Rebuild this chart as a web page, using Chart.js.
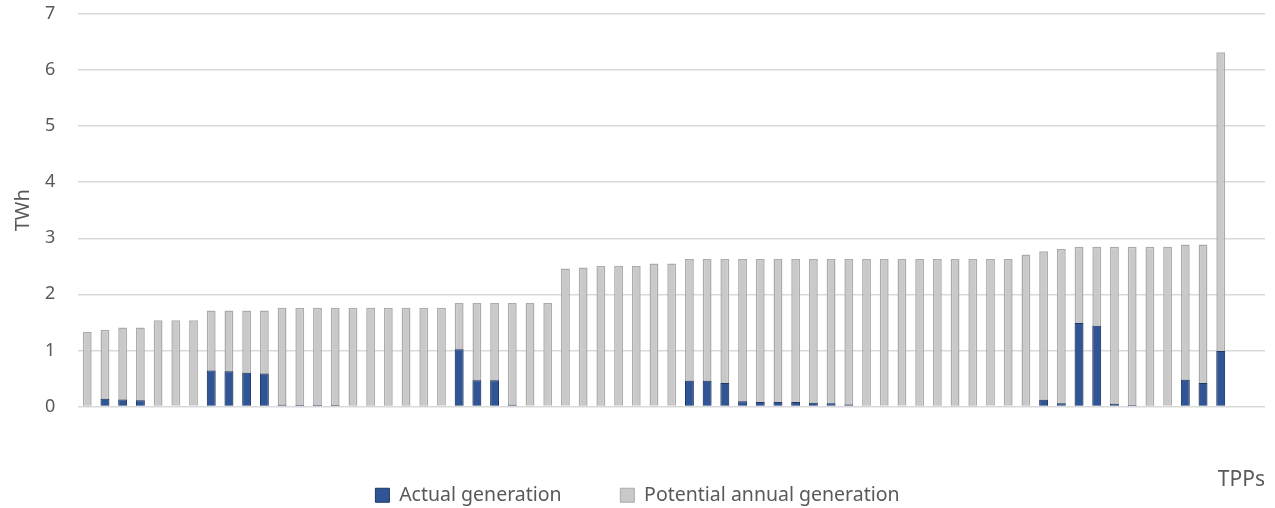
<!DOCTYPE html>
<html>
<head>
<meta charset="utf-8">
<script src="https://cdn.jsdelivr.net/npm/chart.js@4.4.1/dist/chart.umd.min.js"></script>
<style>
  html, body { margin: 0; padding: 0; background: #fff; }
  #wrap { width: 1275px; height: 508px; }
</style>
</head>
<body>
<div id="wrap"><canvas id="tpp"></canvas></div>
<script>
// one entry per TPP, last two categories are empty slots on the axis
var plants = ['', '', '', '', '', '', '', '', '', '', '', '', '', '', '', '', '', '', '', '', '', '', '', '',
    '', '', '', '', '', '', '', '', '', '', '', '', '', '', '', '', '', '', '', '', '', '', '', '',
    '', '', '', '', '', '', '', '', '', '', '', '', '', '', '', '', '', '', '']

var actualGen = [0.005, 0.14, 0.125, 0.11, 0.02, 0, 0, 0.64, 0.63, 0.60, 0.59,
    0.03, 0.025, 0.025, 0.025, 0.02, 0.02, 0.008, 0.005, 0.005, 0,
    1.02, 0.47, 0.47, 0.03, 0, 0,
    0, 0.01, 0.01, 0, 0, 0, 0,
    0.46, 0.46, 0.42, 0.095, 0.08, 0.08, 0.08, 0.065, 0.06, 0.035, 0.02, 0.015, 0.012, 0.01, 0.008, 0.005, 0.003, 0, 0,
    0.02, 0.12, 0.06, 1.49, 1.44, 0.05, 0.025, 0.01, 0, 0.475, 0.42, 0.99,
    null, null]

var potentialGen = [1.33, 1.37, 1.41, 1.41, 1.54, 1.54, 1.54, 1.71, 1.71, 1.71, 1.71,
    1.76, 1.76, 1.76, 1.76, 1.76, 1.76, 1.76, 1.76, 1.76, 1.76,
    1.845, 1.845, 1.845, 1.845, 1.845, 1.845,
    2.46, 2.48, 2.505, 2.505, 2.505, 2.55, 2.55,
    2.63, 2.63, 2.63, 2.63, 2.63, 2.63, 2.63, 2.63, 2.63, 2.63, 2.63, 2.63, 2.63, 2.63, 2.63, 2.63, 2.63, 2.63, 2.63,
    2.71, 2.77, 2.81, 2.85, 2.85, 2.85, 2.85, 2.85, 2.85, 2.89, 2.89, 6.32,
    null, null]

var yTicks = [0, 1, 2, 3, 4, 5, 6, 7]

var txtColor = '#595959'
var fontName = "'Noto Sans', 'Open Sans', sans-serif"

var ctx = document.getElementById('tpp');
var chart = new Chart(ctx, {
    type: 'bar',
    data: {
        labels: plants,
        datasets: [{
            label: 'Actual generation',
            data: actualGen,
            backgroundColor: '#2f5597',
            borderColor: '#1f3864',
            borderWidth: 1,
            grouped: false,
            barPercentage: 0.5,
            categoryPercentage: 1
        }, {
            label: 'Potential annual generation',
            data: potentialGen,
            backgroundColor: '#c9c9c9',
            borderColor: '#aeaaaa',
            borderWidth: 1.5,
            grouped: false,
            barPercentage: 0.5,
            categoryPercentage: 1
        }]
    },
    options: {
        responsive: true,
        maintainAspectRatio: false,
        animation: false,
        layout: {
            padding: { left: 10, right: 10, top: 14, bottom: -7 }
        },
        plugins: {
            tooltip: { enabled: false },
            legend: {
                position: 'bottom',
                labels: {
                    boxWidth: 14,
                    boxHeight: 14,
                    padding: 8,
                    color: txtColor,
                    font: { family: fontName, size: 19.5 },
                    generateLabels: function(chart) {
                        var items = Chart.defaults.plugins.legend.labels.generateLabels(chart)
                        items.forEach(function(it, i) {
                            it.lineWidth = 1
                            if (i == 0) it.text = it.text + '          '
                        })
                        return items
                    }
                }
            }
        },
        scales: {
            x: {
                grid: { display: false },
                border: { display: false },
                ticks: { display: false },
                afterFit: function(axis) { axis.height = 71 },
                title: {
                    display: true,
                    text: 'TPPs',
                    align: 'end',
                    color: txtColor,
                    font: { family: fontName, size: 21 },
                    padding: { top: 40, bottom: -15 }
                }
            },
            y: {
                min: 0,
                max: 7,
                afterBuildTicks: function(axis) {
                    axis.ticks = yTicks.map(function(v) { return { value: v } })
                },
                afterFit: function(axis) { axis.width = 68.4 },
                grid: {
                    color: '#d9d9d9',
                    lineWidth: 1.5,
                    drawTicks: true,
                    tickLength: 23,
                    tickColor: 'rgba(0,0,0,0)'
                },
                border: { display: false },
                ticks: {
                    color: txtColor,
                    padding: 0,
                    font: { family: fontName, size: 18 }
                },
                title: {
                    display: true,
                    text: 'TWh',
                    color: txtColor,
                    font: { family: fontName, size: 20 },
                    padding: { top: 1, bottom: 0 }
                }
            }
        }
    }
});
</script>
</body>
</html>
